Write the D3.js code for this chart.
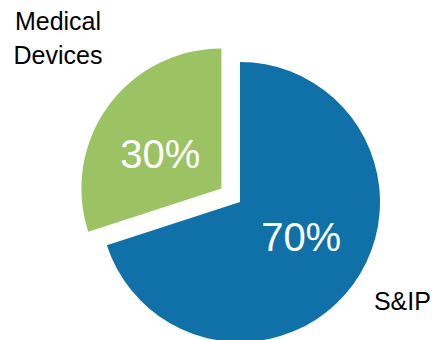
<!DOCTYPE html>
<html>
<head>
<meta charset="utf-8">
<script src="https://cdn.jsdelivr.net/npm/d3@7"></script>
<style>
  body { margin: 0; background: #fff; }
  svg { display: block; font-family: "Liberation Sans", Arial, sans-serif; }
</style>
</head>
<body>
<svg id="chart"></svg>
<script>
const categories = ["S&IP", "Medical Devices"]
const values = [70, 30]
const pctLabels = ["70%", "30%"]
const nameLines = [["S&IP"], ["Medical", "Devices"]]

const width = 435, height = 340
const cx = 240, cy = 202, radius = 140
const explode = [0, 23]
const colors = d3.scaleOrdinal().domain(categories).range(["#0f71a8", "#9bc364"])

const svg = d3.select("#chart")
    .attr("width", width)
    .attr("height", height)

const data = categories.map((c, i) => ({ name: c, value: values[i], pct: pctLabels[i], lines: nameLines[i], explode: explode[i] }))
const pieData = d3.pie().sort(null).value(d => d.value)(data)
const arc = d3.arc().innerRadius(0).outerRadius(radius)
const labelArc = d3.arc().innerRadius(0).outerRadius(radius * 1.0)

// offset of a slice along its bisector
function shift(d) {
    const a = (d.startAngle + d.endAngle) / 2
    return [Math.sin(a) * d.data.explode, -Math.cos(a) * d.data.explode]
}

const g = svg.append("g").attr("transform", `translate(${cx},${cy})`)

const slices = g.selectAll("g.slice")
    .data(pieData)
    .join("g")
    .attr("class", "slice")
    .attr("transform", d => `translate(${shift(d)})`)

slices.append("path")
    .attr("d", arc)
    .attr("fill", d => colors(d.data.name))

// percentage labels, rotated slightly toward the horizontal
slices.append("text")
    .attr("transform", d => {
        const [x, y] = labelArc.centroid(d)
        return `translate(${x * 1.08},${y * 0.84})`
    })
    .attr("text-anchor", "middle")
    .attr("dy", "0.36em")
    .attr("fill", "#fff")
    .style("font-size", "40px")
    .text(d => d.data.pct)

// category names outside the pie
const namePos = [[radius * 1.16, radius * 0.75 + 3, "middle"], [-radius * 1.3, -radius * 1.24 + 2, "middle"]]
slices.append("text")
    .attr("text-anchor", (d, i) => namePos[i][2])
    .attr("transform", (d, i) => {
        const [sx, sy] = shift(d)
        return `translate(${namePos[i][0] - sx},${namePos[i][1] - sy})`
    })
    .attr("fill", "#000")
    .style("font-size", "25px")
    .selectAll("tspan")
    .data(d => d.data.lines)
    .join("tspan")
    .attr("x", 0)
    .attr("dy", (d, i) => i === 0 ? 0 : "1.36em")
    .text(d => d)
</script>
</body>
</html>
